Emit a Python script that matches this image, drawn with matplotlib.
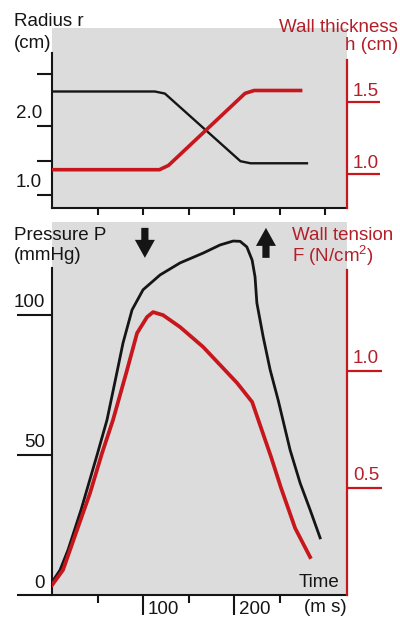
import matplotlib.pyplot as plt

plt.rcParams['font.family'] = ['Liberation Sans', 'DejaVu Sans']
plt.rcParams['mathtext.default'] = 'regular'

RED = '#c8161d'
RED_TXT = '#b3202a'
GRAY = '#dcdcdc'
INK = '#151515'

# top panel: radius r (black, left axis) and wall thickness h (red, right axis)
radius_t = [0, 113, 124, 207, 218, 280]
radius_r = [2.50, 2.50, 2.47, 1.49, 1.46, 1.46]
thick_t = [0, 118, 128, 212, 222, 275]
thick_h = [1.03, 1.03, 1.06, 1.56, 1.58, 1.58]

# bottom panel: pressure P (black, left axis) and wall tension F (red, right axis)
pressure_t = [0, 8.8, 17.6, 31.9, 49.5, 60.4, 70.3, 78, 87.9, 100, 118.7, 140.7,
              166, 184.6, 199, 206.6, 214, 219.8, 223, 225, 232, 239.6, 248.4,
              261.5, 272.5, 283.5, 294.5]
pressure_p = [4.6, 8.9, 16.1, 30.4, 50, 62.5, 77.9, 90, 101.8, 109, 114.3, 118.6,
              122.1, 125, 126.4, 126.3, 124.3, 119.6, 113.6, 104.3, 92.1, 80.4, 69.6,
              51.8, 40, 30.4, 20.4]
tension_t = [0, 12.1, 27.5, 41.8, 55, 67, 82.4, 93.4, 104.4, 111, 122, 140.7,
             166, 203.3, 219.8, 229.7, 240.7, 251.6, 267, 283.5]
tension_f = [0.085, 0.15, 0.321, 0.479, 0.65, 0.791, 1.004, 1.162, 1.231, 1.252,
             1.239, 1.188, 1.103, 0.949, 0.868, 0.756, 0.632, 0.5, 0.329, 0.205]

r_ticks = [1.0, 1.5, 2.0, 2.75]
r_labels = {1.0: '1.0', 2.0: '2.0'}
h_ticks = [1.0, 1.5]
p_ticks = [0, 50, 100]
f_ticks = [0.5, 1.0]
time_minor = [50, 150, 250]
time_major = [100, 200]

FS = 13.5
W, H = 400, 617
fig = plt.figure(figsize=(W / 100, H / 100), dpi=100)


def box(x0, y0, x1, y1):
    return [x0 / W, 1 - y1 / H, (x1 - x0) / W, (y1 - y0) / H]


def px(v):
    return v * 0.72


def setup(ax, tw, left_top, right_top):
    ax.set_facecolor(GRAY)
    ax.set_xlim(0, 324)
    ax.spines['top'].set_visible(False)
    ax.spines['right'].set_visible(False)
    ax.spines['left'].set_linewidth(1.5)
    ax.spines['bottom'].set_linewidth(1.5)
    ax.spines['left'].set_color(INK)
    ax.spines['bottom'].set_color(INK)
    ax.spines['left'].set_bounds(ax.get_ylim()[0], left_top)
    for s in ['left', 'top', 'bottom']:
        tw.spines[s].set_visible(False)
    tw.spines['right'].set_color(RED)
    tw.spines['right'].set_linewidth(1.6)
    tw.spines['right'].set_bounds(tw.get_ylim()[0], right_top)
    ax.tick_params(labelleft=False, labelbottom=False, color=INK, width=1.5)
    tw.tick_params(labelright=False, color=RED, width=1.6)


# ---------------- top panel ----------------
ax1 = fig.add_axes(box(52, 28, 347, 208))
ax1.set_ylim(0.812, 3.42)
tw1 = ax1.twinx()
tw1.set_ylim(0.764, 2.014)
setup(ax1, tw1, 3.06, 1.79)

ax1.plot(radius_t, radius_r, color=INK, lw=1.7, solid_joinstyle='round')
tw1.plot(thick_t, thick_h, color=RED, lw=2.6, solid_joinstyle='round',
         solid_capstyle='butt')

ax1.set_xticks([50, 100, 150, 200, 250, 300])
ax1.tick_params(axis='x', direction='out', length=px(7))
ax1.set_yticks(r_ticks)
ax1.tick_params(axis='y', direction='out', length=px(15))
for v, s in r_labels.items():
    ax1.annotate(s, xy=(0, v), xycoords=('axes fraction', 'data'),
                 xytext=(-px(10), px(13)), textcoords='offset points',
                 ha='right', va='center', fontsize=FS, color=INK)

tw1.set_yticks(h_ticks)
tw1.tick_params(axis='y', direction='out', length=px(33))
for v in h_ticks:
    tw1.annotate('%.1f' % v, xy=(1, v), xycoords=('axes fraction', 'data'),
                 xytext=(px(6), px(11)), textcoords='offset points',
                 ha='left', va='center', fontsize=FS, color=RED_TXT)

# ---------------- bottom panel ----------------
ax2 = fig.add_axes(box(52, 222, 347, 595))
ax2.set_ylim(0, 133.2)
tw2 = ax2.twinx()
tw2.set_ylim(0.043, 1.637)
setup(ax2, tw2, 116.8, 1.432)

ax2.plot(pressure_t, pressure_p, color=INK, lw=2.0, solid_joinstyle='round')
tw2.plot(tension_t, tension_f, color=RED, lw=2.7, solid_joinstyle='round')

ax2.set_yticks(p_ticks)
ax2.tick_params(axis='y', direction='out', length=px(35))
for v in p_ticks:
    ax2.annotate(str(v), xy=(0, v), xycoords=('axes fraction', 'data'),
                 xytext=(-px(7), px(12)), textcoords='offset points',
                 ha='right', va='center', fontsize=FS, color=INK)

tw2.set_yticks(f_ticks)
tw2.tick_params(axis='y', direction='out', length=px(35))
for v in f_ticks:
    tw2.annotate('%.1f' % v, xy=(1, v), xycoords=('axes fraction', 'data'),
                 xytext=(px(6), px(13)), textcoords='offset points',
                 ha='left', va='center', fontsize=FS, color=RED_TXT)

ax2.set_xticks(time_major)
ax2.set_xticks(time_minor, minor=True)
ax2.tick_params(axis='x', which='major', direction='out', length=px(20))
ax2.tick_params(axis='x', which='minor', direction='out', length=px(8),
                width=1.5, color=INK)
for v in time_major:
    ax2.annotate(str(v), xy=(v, 0), xycoords=('data', 'axes fraction'),
                 xytext=(px(5), -px(15)), textcoords='offset points',
                 ha='left', va='center', fontsize=FS, color=INK)

ax2.text(0.975, 0.033, 'Time', transform=ax2.transAxes, ha='right',
         va='center', fontsize=FS, color=INK)

# valve arrows
arrow = dict(arrowstyle='simple, head_length=0.9, head_width=1.0, tail_width=0.36',
             color=INK, mutation_scale=14.4, shrinkA=0, shrinkB=0, lw=0)
ax2.annotate('', xy=(102, 120.4), xytext=(102, 131.1), arrowprops=arrow)
ax2.annotate('', xy=(235, 131.1), xytext=(235, 120.4), arrowprops=arrow)


# axis titles
def ftext(x, y, s, **kw):
    fig.text(x / W, 1 - y / H, s, va='center', fontsize=FS, **kw)


ftext(14, 21, 'Radius r', color=INK)
ftext(14, 43, '(cm)', color=INK)
ftext(398, 28, 'Wall thickness', color=RED_TXT, ha='right')
ftext(398, 46, 'h (cm)', color=RED_TXT, ha='right')
ftext(14, 236, 'Pressure P', color=INK)
ftext(14, 256, '(mmHg)', color=INK)
ftext(292, 236, 'Wall tension', color=RED_TXT)
ftext(292, 256, 'F (N/cm$^{2}$)', color=RED_TXT)
ftext(347, 608, '(m s)', color=INK, ha='right')

fig.savefig('out.png', dpi=100)
